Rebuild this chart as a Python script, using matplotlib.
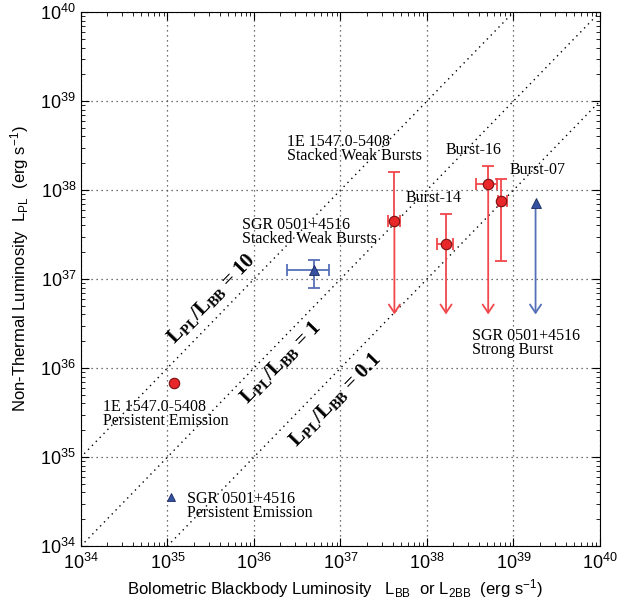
import numpy as np
import matplotlib
matplotlib.use("Agg")
import matplotlib.pyplot as plt
from matplotlib.ticker import FixedLocator, NullFormatter, LogFormatterSciNotation

plt.rcParams['font.family'] = ['Liberation Sans', 'DejaVu Sans']
plt.rcParams['mathtext.fontset'] = 'custom'
plt.rcParams['mathtext.rm'] = 'Liberation Sans'
plt.rcParams['mathtext.it'] = 'Liberation Sans'
plt.rcParams['mathtext.bf'] = 'Liberation Sans:bold'

SERIF = 'Liberation Serif'
RED = '#e8272a'
RED_BAR = '#f0484c'
BLUE = '#3552a2'
BLUE_BAR = '#5670b8'

# magnetar bursts (1E 1547.0-5408 stacked weak bursts + Burst-14/16/07)
burst_x = [4.2e37, 1.66e38, 5.1e38, 7.2e38]
burst_x_lo = [3.54e37, 1.31e38, 3.68e38, 6.6e38]
burst_x_hi = [4.88e37, 2.0e38, 6.44e38, 8.4e38]
burst_y = [4.5e37, 2.5e37, 1.17e38, 7.6e37]
burst_y_lo = [4.0e36, 4.0e36, 4.0e36, 1.6e37]
burst_y_hi = [1.58e38, 5.4e37, 1.86e38, 1.32e38]
burst_is_limit = [True, True, True, False]

# SGR 0501+4516 stacked weak bursts
sgr_stack_x, sgr_stack_x_lo, sgr_stack_x_hi = 4.9e36, 2.4e36, 7.4e36
sgr_stack_y, sgr_stack_y_lo, sgr_stack_y_hi = 1.26e37, 7.9e36, 1.62e37

# SGR 0501+4516 strong burst (upper limit)
sgr_strong_x, sgr_strong_y, sgr_strong_lim = 1.8e39, 7.1e37, 4.0e36

# persistent emission
pe_1e = (1.19e35, 6.8e35)
pe_sgr = (1.1e35, 3.6e34)

ratios = [10, 1, 0.1]
decades = np.arange(34, 41)

fig = plt.figure(figsize=(6.24, 6.05), dpi=100)
ax = fig.add_axes([0.1298, 0.0975, 0.8317, 0.8825])
ax.set_xscale('log')
ax.set_yscale('log')
ax.set_xlim(1e34, 1e40)
ax.set_ylim(1e34, 1e40)

# constant-ratio lines
xx = np.array([1e33, 1e41])
for r in ratios:
    ax.plot(xx, r * xx, color='black', ls=(0, (1, 3)), lw=1.0, zorder=1)

ax.grid(True, which='major', color='#444444', ls=(0, (1, 3)), lw=0.9)

# bursts of 1E 1547.0-5408
for x, xl, xh, y, yl, yh, lim in zip(burst_x, burst_x_lo, burst_x_hi, burst_y,
                                     burst_y_lo, burst_y_hi, burst_is_limit):
    low = 0 if lim else y - yl
    ax.errorbar([x], [y], xerr=[[x - xl], [xh - x]], yerr=[[low], [yh - y]],
                fmt='none', ecolor=RED_BAR, elinewidth=1.3, capsize=4, capthick=1.3, zorder=3)
    if lim:
        ax.annotate('', xy=(x, yl), xytext=(x, y),
                    arrowprops=dict(arrowstyle='->,head_length=0.6,head_width=0.4',
                                    color=RED_BAR, lw=1.3, shrinkA=0, shrinkB=0), zorder=3)
ax.plot(burst_x, burst_y, 'o', ms=7.5, mfc=RED, mec='#7a1010', mew=0.8, zorder=4)

# SGR 0501+4516 stacked weak bursts
ax.errorbar([sgr_stack_x], [sgr_stack_y],
            xerr=[[sgr_stack_x - sgr_stack_x_lo], [sgr_stack_x_hi - sgr_stack_x]],
            yerr=[[sgr_stack_y - sgr_stack_y_lo], [sgr_stack_y_hi - sgr_stack_y]],
            fmt='none', ecolor=BLUE_BAR, elinewidth=1.3, capsize=4, capthick=1.3, zorder=3)
ax.plot([sgr_stack_x], [sgr_stack_y], '^', ms=7, mfc=BLUE, mec='#1a2a60', mew=0.6, zorder=4)

# SGR 0501+4516 strong burst
ax.annotate('', xy=(sgr_strong_x, sgr_strong_lim), xytext=(sgr_strong_x, sgr_strong_y),
            arrowprops=dict(arrowstyle='->,head_length=0.6,head_width=0.4',
                            color=BLUE_BAR, lw=1.3, shrinkA=0, shrinkB=0), zorder=3)
ax.plot([sgr_strong_x], [sgr_strong_y], '^', ms=7, mfc=BLUE, mec='#1a2a60', mew=0.6, zorder=4)

# persistent emission
ax.plot([pe_1e[0]], [pe_1e[1]], 'o', ms=7.5, mfc=RED, mec='#7a1010', mew=0.8, zorder=4)
ax.plot([pe_sgr[0]], [pe_sgr[1]], '^', ms=6, mfc=BLUE, mec='#1a2a60', mew=0.6, zorder=4)

# source labels
lab = dict(family=SERIF, fontsize=11.5, linespacing=0.85, va='top', ha='left')
ax.text(2.4e36, 4.3e38, '1E 1547.0-5408\nStacked Weak Bursts', **lab)
ax.text(1.66e38, 3.5e38, 'Burst-16', **lab)
ax.text(8.9e38, 2.05e38, 'Burst-07', **lab)
ax.text(5.7e37, 1.0e38, 'Burst-14', **lab)
ax.text(7.3e35, 5.0e37, 'SGR 0501+4516\nStacked Weak Bursts', **lab)
ax.text(3.3e38, 2.8e36, 'SGR 0501+4516\nStrong Burst', **lab)
ax.text(1.8e34, 4.5e35, '1E 1547.0-5408\nPersistent Emission', **lab)
ax.text(1.68e35, 4.2e34, 'SGR 0501+4516\nPersistent Emission', **lab)

# ratio labels along the diagonals
rlab = dict(family=SERIF, fontsize=15, fontweight='bold', rotation=45.8,
            ha='center', va='center', rotation_mode='anchor')
ax.text(3.2e35, 6.1e36, r'$\mathregular{L_{PL}/L_{BB}}$ = 10', **rlab)
ax.text(2.05e36, 1.17e36, r'$\mathregular{L_{PL}/L_{BB}}$ = 1', **rlab)
ax.text(8.6e36, 4.4e35, r'$\mathregular{L_{PL}/L_{BB}}$ = 0.1', **rlab)

# ticks only inside 1e34..1e40
major = 10.0 ** decades
minor = np.array([m * 10.0 ** d for d in decades[:-1] for m in range(2, 10)])
for axis in (ax.xaxis, ax.yaxis):
    axis.set_major_locator(FixedLocator(major))
    axis.set_minor_locator(FixedLocator(minor))
    axis.set_major_formatter(LogFormatterSciNotation())
    axis.set_minor_formatter(NullFormatter())
ax.tick_params(which='both', direction='in', top=True, right=True, labelsize=13)
ax.tick_params(which='major', length=6, width=0.8)
ax.tick_params(which='minor', length=3, width=0.6)
ax.tick_params(axis='x', pad=5)

ax.set_xlabel(r'Bolometric Blackbody Luminosity   L$_{\rm BB}$  or L$_{\rm 2BB}$  (erg s$^{-1}$)',
              fontsize=12)
ax.xaxis.set_label_coords(0.49, -0.058)
ax.set_ylabel(r'Non-Thermal Luminosity  L$_{\rm PL}$  (erg s$^{-1}$)', fontsize=12)
ax.yaxis.set_label_coords(-0.097, 0.52)

fig.savefig('out.png', dpi=100)
